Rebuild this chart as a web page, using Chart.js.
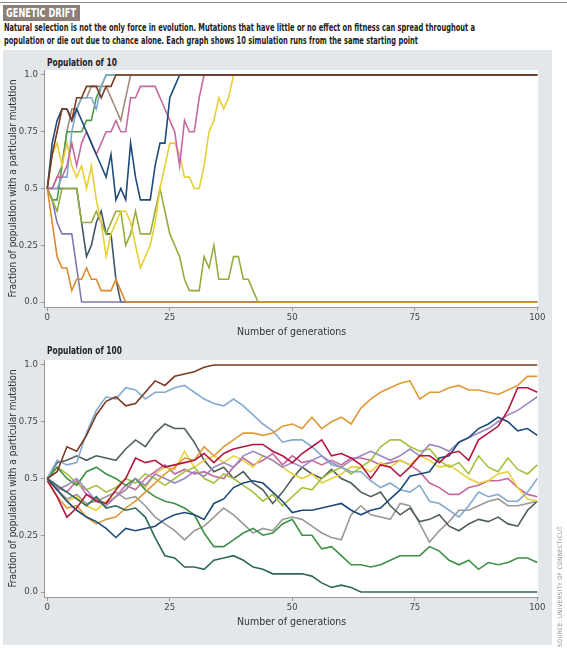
<!DOCTYPE html>
<html>
<head>
<meta charset="utf-8">
<script src="https://cdn.jsdelivr.net/npm/chart.js@4.4.1/dist/chart.umd.min.js"></script>
<style>
  body { margin: 0; width: 567px; height: 648px; position: relative; background: #fff; overflow: hidden;
         font-family: "Liberation Sans Narrow", "DejaVu Sans Condensed", "Roboto Condensed", "Liberation Sans", sans-serif; }
  #rule { position: absolute; left: 0; top: 2px; width: 567px; height: 1px; background: #8d8d8d; }
  #tag { position: absolute; left: 3px; top: 5px; width: 77px; height: 16px; background: #8b7f78; overflow: hidden; }
  #tagText { position: absolute; left: 3px; top: 0; color: #fff; font-weight: bold; font-size: 13px; line-height: 16px;
             white-space: nowrap; display: inline-block; transform-origin: 0 0; }
  .sub { position: absolute; left: 4px; font-size: 10.5px; font-weight: bold; color: #222; white-space: nowrap;
         transform-origin: 0 0; display: inline-block; }
  #panel { position: absolute; left: 3px; top: 50px; width: 549px; height: 595px; background: #e3e7ea; }
  .ptitle { position: absolute; left: 47px; font-size: 10.5px; font-weight: bold; color: #222; white-space: nowrap;
            transform-origin: 0 0; display: inline-block; }
  .box { position: absolute; left: 3px; width: 547px; height: 290px; }
  #source { position: absolute; left: 515px; top: 598px; width: 90px; height: 8px; font-size: 6px; line-height: 8px;
            color: #8a8a8a; letter-spacing: 0.4px; text-align: center; white-space: nowrap; transform: rotate(-90deg); }
</style>
</head>
<body>
<div id="rule"></div>
<div id="tag"><span id="tagText">GENETIC DRIFT</span></div>
<div class="sub" id="sub1" style="top:21px">Natural selection is not the only force in evolution. Mutations that have little or no effect on fitness can spread throughout a</div>
<div class="sub" id="sub2" style="top:34px">population or die out due to chance alone. Each graph shows 10 simulation runs from the same starting point</div>
<div id="panel"></div>
<div class="ptitle" id="pt10" style="top:56px">Population of 10</div>
<div class="box" style="top:55px"><canvas id="c10"></canvas></div>
<div class="ptitle" id="pt100" style="top:344px">Population of 100</div>
<div class="box" style="top:345px"><canvas id="c100"></canvas></div>
<div id="source">SOURCE: UNIVERSITY OF CONNECTICUT</div>

<script>
// axis ticks
const xTickValues = [0, 25, 50, 75, 100];
const yTickValues = [0, 0.25, 0.5, 0.75, 1];
const yTickLabels = ["0.0", "0.25", "0.5", "0.75", "1.0"];
const xTitle = "Number of generations";
const yTitle = "Fraction of population with a particular mutation";

// Population of 10: one value per generation until the run is fixed at 0 or 1
const pop10Brown    = [0.5,0.65,0.75,0.85,0.85,0.8,0.9,0.9,0.95,0.95,0.95,0.9,0.95,0.95,1];
const pop10Orange   = [0.5,0.35,0.2,0.15,0.15,0.05,0.1,0.1,0.15,0.1,0.1,0.05,0.05,0.05,0.1,0.05,0];
const pop10Navy     = [0.5,0.7,0.8,0.85,0.85,0.8,0.85,0.8,0.75,0.7,0.65,0.6,0.55,0.65,0.45,0.5,0.45,0.7,0.55,0.45,0.45,0.45,0.6,0.7,0.7,0.9,0.95,1];
const pop10Magenta  = [0.5,0.5,0.55,0.55,0.6,0.7,0.6,0.7,0.75,0.7,0.65,0.7,0.75,0.75,0.8,0.75,0.75,0.9,0.9,0.95,0.95,0.95,0.95,0.9,0.85,0.8,0.75,0.6,0.8,0.75,0.75,0.9,1];
const pop10Yellow   = [0.5,0.65,0.7,0.6,0.7,0.6,0.55,0.6,0.5,0.6,0.45,0.35,0.2,0.3,0.35,0.4,0.4,0.35,0.25,0.15,0.2,0.25,0.35,0.5,0.6,0.7,0.7,0.65,0.55,0.55,0.5,0.5,0.6,0.75,0.8,0.9,0.85,0.9,1];
const pop10Olive    = [0.5,0.45,0.4,0.5,0.5,0.5,0.5,0.35,0.35,0.35,0.4,0.35,0.3,0.35,0.4,0.4,0.25,0.3,0.4,0.3,0.3,0.3,0.4,0.5,0.4,0.3,0.25,0.2,0.1,0.05,0.05,0.05,0.2,0.15,0.25,0.1,0.1,0.1,0.2,0.2,0.1,0.1,0.05,0];
const pop10LightBlue= [0.5,0.5,0.5,0.55,0.55,0.75,0.85,0.9,0.9,0.9,0.85,0.95,1];
const pop10Green    = [0.5,0.45,0.45,0.6,0.75,0.75,0.75,0.75,0.8,0.8,0.9,0.95,1];
const pop10Taupe    = [0.5,0.5,0.55,0.6,0.75,0.85,0.85,0.9,0.9,0.95,0.95,0.95,0.95,0.9,0.85,0.8,0.9,1];
const pop10Lavender = [0.5,0.45,0.35,0.3,0.3,0.3,0.15,0];
const pop10Slate    = [0.5,0.5,0.5,0.5,0.5,0.5,0.5,0.35,0.2,0.25,0.35,0.4,0.3,0.3,0.1,0];

// Population of 100: values read every second generation
const gens100 = [0,2,4,6,8,10,12,14,16,18,20,22,24,26,28,30,32,34,36,38,40,42,44,46,48,50,
                 52,54,56,58,60,62,64,66,68,70,72,74,76,78,80,82,84,86,88,90,92,94,96,98,100];
const pop100Brown    = [0.5,0.53,0.64,0.62,0.69,0.78,0.84,0.86,0.82,0.83,0.88,0.93,0.91,0.95,0.96,0.97,0.99,1];
const pop100Teal     = [0.5,0.47,0.44,0.41,0.38,0.42,0.37,0.38,0.36,0.37,0.33,0.24,0.16,0.15,0.11,0.11,0.1,0.14,0.15,0.16,0.14,0.11,0.1,0.08,0.08,0.08,0.08,0.07,0.04,0.02,0.03,0.02,0];
const pop100Orange   = [0.5,0.42,0.37,0.38,0.33,0.3,0.32,0.33,0.37,0.4,0.44,0.48,0.52,0.55,0.59,0.58,0.64,0.6,0.64,0.67,0.7,0.7,0.69,0.7,0.73,0.74,
                        0.72,0.77,0.72,0.75,0.77,0.74,0.81,0.85,0.88,0.9,0.92,0.93,0.85,0.88,0.88,0.9,0.91,0.89,0.89,0.88,0.87,0.89,0.91,0.95,0.95];
const pop100LightBlue= [0.5,0.58,0.56,0.57,0.7,0.8,0.86,0.85,0.9,0.89,0.85,0.88,0.88,0.9,0.91,0.88,0.85,0.83,0.82,0.85,0.82,0.78,0.74,0.71,0.66,0.67,
                        0.67,0.64,0.6,0.56,0.55,0.53,0.53,0.49,0.46,0.48,0.45,0.44,0.47,0.4,0.39,0.36,0.33,0.38,0.44,0.42,0.43,0.4,0.4,0.44,0.5];
const pop100Red      = [0.49,0.42,0.33,0.37,0.43,0.4,0.39,0.45,0.5,0.59,0.57,0.58,0.55,0.56,0.57,0.58,0.61,0.57,0.61,0.63,0.64,0.65,0.65,0.62,0.6,0.57,
                        0.61,0.64,0.67,0.6,0.61,0.59,0.56,0.5,0.56,0.55,0.51,0.55,0.6,0.6,0.57,0.61,0.62,0.58,0.67,0.7,0.73,0.8,0.9,0.9,0.88];
const pop100Purple   = [0.5,0.45,0.47,0.5,0.45,0.4,0.38,0.42,0.45,0.5,0.47,0.52,0.5,0.48,0.5,0.53,0.51,0.55,0.57,0.55,0.6,0.62,0.6,0.58,0.55,0.57,
                        0.55,0.58,0.6,0.57,0.55,0.58,0.6,0.62,0.6,0.58,0.6,0.63,0.6,0.65,0.64,0.62,0.66,0.68,0.7,0.72,0.75,0.78,0.8,0.83,0.86];
const pop100Magenta  = [0.5,0.46,0.44,0.49,0.43,0.41,0.39,0.42,0.47,0.45,0.5,0.53,0.56,0.52,0.54,0.52,0.53,0.51,0.5,0.55,0.59,0.56,0.58,0.61,0.56,0.6,
                        0.57,0.58,0.56,0.58,0.56,0.59,0.59,0.58,0.56,0.57,0.58,0.56,0.53,0.48,0.46,0.43,0.43,0.46,0.47,0.49,0.49,0.5,0.46,0.43,0.42];
const pop100Navy     = [0.5,0.45,0.4,0.36,0.33,0.31,0.28,0.24,0.28,0.27,0.28,0.29,0.32,0.34,0.35,0.34,0.32,0.39,0.41,0.46,0.48,0.49,0.48,0.44,0.4,0.35,
                        0.36,0.36,0.37,0.38,0.39,0.36,0.34,0.36,0.37,0.41,0.45,0.51,0.52,0.53,0.59,0.6,0.66,0.68,0.72,0.74,0.77,0.75,0.71,0.72,0.69];
const pop100Charcoal = [0.5,0.57,0.58,0.6,0.58,0.6,0.59,0.58,0.63,0.67,0.64,0.7,0.74,0.72,0.72,0.66,0.58,0.53,0.55,0.5,0.53,0.48,0.45,0.39,0.44,0.5,
                        0.55,0.52,0.5,0.54,0.5,0.48,0.44,0.42,0.44,0.38,0.34,0.37,0.31,0.32,0.34,0.29,0.27,0.3,0.32,0.31,0.33,0.3,0.29,0.36,0.4];
const pop100Green    = [0.5,0.55,0.5,0.47,0.53,0.55,0.52,0.5,0.47,0.5,0.45,0.42,0.4,0.39,0.37,0.34,0.26,0.2,0.2,0.23,0.26,0.28,0.25,0.26,0.3,0.32,
                        0.25,0.25,0.19,0.2,0.16,0.12,0.12,0.11,0.12,0.14,0.16,0.16,0.16,0.2,0.18,0.14,0.12,0.14,0.1,0.13,0.12,0.13,0.15,0.15,0.13];
const pop100LightGreen=[0.5,0.55,0.52,0.48,0.45,0.47,0.44,0.46,0.5,0.48,0.52,0.5,0.47,0.5,0.53,0.55,0.5,0.48,0.52,0.5,0.47,0.44,0.4,0.43,0.38,0.42,
                        0.46,0.45,0.5,0.53,0.55,0.52,0.55,0.58,0.64,0.67,0.67,0.64,0.62,0.63,0.58,0.55,0.57,0.52,0.6,0.55,0.53,0.59,0.54,0.52,0.56];
const pop100Yellow   = [0.5,0.45,0.4,0.42,0.38,0.36,0.4,0.42,0.45,0.5,0.46,0.52,0.55,0.54,0.62,0.55,0.58,0.6,0.57,0.6,0.58,0.55,0.6,0.58,0.55,0.52,
                        0.5,0.52,0.48,0.5,0.52,0.55,0.55,0.53,0.57,0.55,0.58,0.56,0.6,0.58,0.55,0.56,0.53,0.5,0.48,0.49,0.52,0.53,0.46,0.41,0.4];
const pop100Grey     = [0.5,0.45,0.41,0.43,0.39,0.4,0.42,0.44,0.41,0.42,0.38,0.33,0.3,0.27,0.23,0.27,0.29,0.33,0.37,0.34,0.3,0.26,0.28,0.27,0.32,0.33,
                        0.32,0.29,0.26,0.24,0.23,0.34,0.38,0.34,0.33,0.32,0.39,0.38,0.3,0.22,0.27,0.31,0.36,0.36,0.38,0.4,0.41,0.38,0.38,0.39,0.4];

// first entry is drawn on top
const runs10 = [
  { data: pop10Brown, color: "#7a3b22" },
  { data: pop10Orange, color: "#e0892c" },
  { data: pop10Navy, color: "#1d4b7a" },
  { data: pop10Magenta, color: "#c6679f" },
  { data: pop10Yellow, color: "#e8cf35" },
  { data: pop10Olive, color: "#94ad3c" },
  { data: pop10LightBlue, color: "#80a9d1" },
  { data: pop10Green, color: "#4b9a4c" },
  { data: pop10Taupe, color: "#a08a7a" },
  { data: pop10Lavender, color: "#8278ad" },
  { data: pop10Slate, color: "#3d5668" },
];
const runs100 = [
  { data: pop100Brown, color: "#7a3b22" },
  { data: pop100Teal, color: "#2e6a52" },
  { data: pop100Red, color: "#b3163f" },
  { data: pop100Navy, color: "#1d4b7a" },
  { data: pop100Orange, color: "#e19a38" },
  { data: pop100Purple, color: "#9c86c4" },
  { data: pop100LightBlue, color: "#84aad0" },
  { data: pop100Green, color: "#3f8f45" },
  { data: pop100LightGreen, color: "#a3c23d" },
  { data: pop100Yellow, color: "#e7d23a" },
  { data: pop100Magenta, color: "#c6679f" },
  { data: pop100Charcoal, color: "#4f5f57" },
  { data: pop100Grey, color: "#999999" },
];

const FONT = "'Liberation Sans Narrow', 'DejaVu Sans Condensed', 'Roboto Condensed', 'Liberation Sans', sans-serif";

// squeeze a text to the width it has in the print
function fitWidth(el, target) {
  const k = target / el.getBoundingClientRect().width;
  el.style.transform = "scaleX(" + k + ")";
  return k;
}
const k = fitWidth(document.getElementById("sub1"), 471);
document.getElementById("sub2").style.transform = "scaleX(" + k + ")";
fitWidth(document.getElementById("tagText"), 70);
fitWidth(document.getElementById("pt10"), 70);
fitWidth(document.getElementById("pt100"), 75);

// white plot panel
const whitePanel = {
  id: "whitePanel",
  beforeDraw(chart) {
    const a = chart.chartArea;
    const ctx = chart.ctx;
    ctx.save();
    ctx.fillStyle = "#ffffff";
    ctx.fillRect(a.left, a.top, a.right - a.left, a.bottom - a.top);
    ctx.restore();
  },
};

function toPoints(values, xs) {
  const pts = values.map((v, i) => ({ x: xs ? xs[i] : i, y: v }));
  const last = pts[pts.length - 1];
  // a fixed run stays where it is until the end
  if (last.x < 100) pts.push({ x: 100, y: last.y });
  return pts;
}

function makeChart(id, runs, xs) {
  const ctx = document.getElementById(id).getContext("2d");
  return new Chart(ctx, {
    type: "line",
    data: {
      datasets: runs.map((r) => ({
        data: toPoints(r.data, xs),
        borderColor: r.color,
        borderWidth: 1.6,
        pointRadius: 0,
        tension: 0,
        fill: false,
      })),
    },
    options: {
      responsive: true,
      maintainAspectRatio: false,
      animation: false,
      events: [],
      layout: { padding: { left: 0, right: 11.7, top: 15, bottom: 0 } },
      scales: {
        x: {
          type: "linear",
          min: -0.5,
          max: 100.2,
          afterFit: (s) => { s.height = 38; },
          afterBuildTicks: (s) => { s.ticks = xTickValues.map((v) => ({ value: v })); },
          ticks: { color: "#444", font: { family: FONT, size: 9.5 }, padding: 1, maxRotation: 0 },
          grid: { drawOnChartArea: false, drawTicks: true, tickLength: 4, color: "#9a9a9a" },
          border: { display: true, color: "#9a9a9a" },
          title: { display: true, text: xTitle, color: "#333", font: { family: FONT, size: 10.5 }, padding: { top: 0, bottom: 6 } },
        },
        y: {
          min: -0.022,
          max: 1.022,
          afterFit: (s) => { s.width = 41.85; },
          afterBuildTicks: (s) => { s.ticks = yTickValues.map((v) => ({ value: v })); },
          ticks: {
            color: "#444",
            font: { family: FONT, size: 9.5 },
            padding: 3,
            callback: (v) => yTickLabels[yTickValues.indexOf(v)],
          },
          grid: { drawOnChartArea: false, drawTicks: true, tickLength: 4, color: "#9a9a9a" },
          border: { display: true, color: "#9a9a9a" },
          title: { display: true, text: yTitle, color: "#333", font: { family: FONT, size: 10 }, padding: { top: 4, bottom: 0 } },
        },
      },
      plugins: {
        legend: { display: false },
        tooltip: { enabled: false },
      },
    },
    plugins: [whitePanel],
  });
}

makeChart("c10", runs10, null);
makeChart("c100", runs100, gens100);
</script>
</body>
</html>
